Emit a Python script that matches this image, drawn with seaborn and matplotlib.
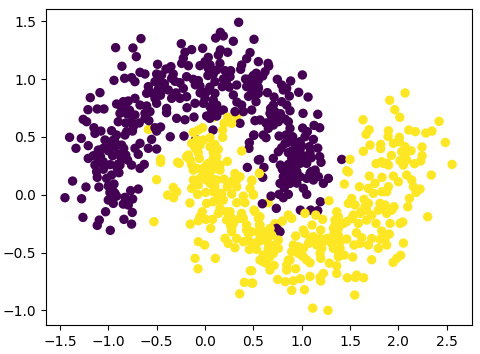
import numpy as np
import pandas as pd
import matplotlib
matplotlib.use('Agg')
import matplotlib.pyplot as plt
import seaborn as sns

# Points as (x, y), one list per moon
yellow_under = [(-0.586,0.565),(0.328,0.68),(0.09,0.67),(0.569,0.19),(0.655,-0.069),(0.76,-0.30),(0.724,-0.25),(-0.5,0.13)]

purple_points = [
(0.348,1.49),(0.159,1.403),(0.110,1.354),(0.19,1.372),(0.293,1.326),(0.507,1.343),(-0.662,1.349),(-0.924,1.271),
(-0.745,1.268),(-0.71,1.193),(-0.245,1.305),(-0.138,1.254),(-0.024,1.265),(-0.207,1.231),(0.159,1.251),(0.234,1.231),
(0.466,1.228),(0.431,1.176),(0.138,1.207),(-0.224,1.179),(-0.241,1.135),(-0.49,1.127),(-0.859,1.11),(0.034,1.187),
(0,1.15),(-0.052,1.115),(0.052,1.121),(0.155,1.135),(0.552,1.15),(0.379,1.121),(0.369,1.084),(-0.172,1.115),
(-0.352,1.107),(-0.403,1.086),(-0.672,1.058),(-0.621,1.043),(-0.5,1.043),(-0.448,1.035),(-0.328,1.043),(-0.345,1.006),
(-0.941,0.988),(-0.831,1.006),(-0.759,1.012),(-0.724,0.977),(0.034,1.092),(0.121,1.078),(0.207,1.072),(0.266,1.072),
(0.086,1.043),(0.259,1.02),(0.103,0.977),(0.19,1.0),(-0.19,1.02),(-0.121,0.997),(-0.069,0.986),(-0.517,0.977),
(-0.466,0.968),(-0.586,0.934),(-0.259,0.968),(-0.224,0.919),(-0.052,0.94),(0.179,0.934),(0.328,0.948),(0.431,0.934),
(0.5,0.977),(0.552,1.006),(0.483,0.919),(0.552,0.919),(-1.086,0.882),(-0.603,0.876),(-0.483,0.911),(-0.379,0.905),
(0.017,0.89),(0.103,0.876),(0.293,0.862),(0.517,0.862),(-1.186,0.839),(-0.724,0.833),(-0.517,0.833),(-0.345,0.833),
(-0.259,0.833),(-0.19,0.847),(0,0.833),(0.086,0.818),(-0.793,0.81),(-0.914,0.784),(-0.845,0.804),(-0.672,0.775),
(-0.603,0.767),(-0.5,0.79),(-0.103,0.79),(-0.017,0.79),(0.052,0.761),(0.121,0.775),(0.379,0.775),(-1.21,0.735),
(-1.114,0.741),(-1.045,0.741),(-0.81,0.744),(-0.397,0.746),(-0.397,0.709),(-0.186,0.752),(-0.879,0.703),(-0.803,0.697),
(-0.724,0.689),(-0.621,0.703),(-0.569,0.718),(0.138,0.718),(0.19,0.732),(0.31,0.718),(0.397,0.718),(0.483,0.732),
(0.017,0.68),(0.121,0.68),(-0.293,0.66),(-0.207,0.648),(-0.114,0.671),(-0.897,0.631),(-0.759,0.631),(-0.621,0.66),
(-1.259,0.651),(-1.224,0.631),(0.362,0.617),(-1.148,0.579),(-1.138,0.53),(-1.076,0.55),(-0.966,0.553),(-0.914,0.516),
(-0.81,0.545),(-0.741,0.588),(-0.517,0.579),(-0.459,0.585),(-0.5,0.55),(-1.4,0.496),(-1.279,0.487),(-1.334,0.401),
(-1.207,0.424),(-0.359,0.501),(-0.217,0.507),(0.083,0.559),(-0.097,0.478),(-0.552,0.478),(-0.828,0.516),(-1.034,0.473),
(-0.931,0.458),(-0.862,0.429),(-0.672,0.444),(-0.586,0.401),(-0.5,0.395),(-1.052,0.401),(-1.103,0.386),(-0.931,0.415),
(-0.724,0.401),(0.507,0.516),(0.459,0.45),(0.455,0.401),(0.552,0.3),(0.438,0.236),(-0.69,0.349),(-0.955,0.337),
(-0.819,0.343),(-1.155,0.337),(-1.207,0.314),(-1.103,0.3),(-1.052,0.285),(-0.862,0.305),(-0.897,0.265),(-0.759,0.256),
(-0.628,0.262),(-0.672,0.228),
(0.652,1.135),(0.659,1.112),(0.621,1.063),(0.597,1.026),(0.552,0.991),(0.5,0.963),(0.483,0.905),(1.007,1.035),
(0.748,0.997),(0.886,0.983),(0.793,0.948),(0.845,0.919),(0.81,0.905),(0.969,0.885),(1.066,0.844),(0.645,0.882),
(0.552,0.876),(0.714,0.844),(0.872,0.853),(0.528,0.804),(0.793,0.804),(0.707,0.775),(0.845,0.775),(0.679,0.746),
(0.879,0.726),(0.672,0.703),(1.014,0.703),(1.166,0.695),(0.69,0.669),(0.517,0.64),(0.569,0.646),(0.828,0.654),
(0.759,0.631),(0.862,0.631),(0.707,0.602),(0.655,0.573),(0.879,0.573),(1.010,0.576),(1.128,0.599),(1.186,0.579),
(1.059,0.545),(0.603,0.516),(0.631,0.493),(0.503,0.513),(0.766,0.507),(0.838,0.516),(0.907,0.501),(1.034,0.501),
(1.121,0.478),(0.983,0.458),(0.828,0.444),(0.93,0.444),(0.793,0.406),(1.079,0.415),(1.166,0.403),(0.759,0.372),
(0.948,0.401),(0.983,0.372),(0.862,0.363),(1.086,0.363),(0.707,0.314),(0.566,0.305),(1.186,0.329),(1.2,0.28),
(1.414,0.305),(0.897,0.314),(0.976,0.329),(0.931,0.285),(0.779,0.256),(0.862,0.262),(0.983,0.271),(1.052,0.271),
(0.61,0.236),(0.897,0.248),(1.138,0.213),
(-1.103,0.277),(-1.138,0.256),(-1.121,0.199),(-1.114,0.15),(-0.879,0.256),(-0.907,0.228),(-0.89,0.19),(-0.966,0.17),
(-1.017,0.141),(-0.941,0.092),(-1.0,0.075),(-1.369,0.118),(-1.231,0.066),(-1.097,0.066),(-1.448,-0.026),(-1.276,-0.035),
(-0.983,0.02),(-0.931,0.012),(-0.914,-0.012),(-1,-0.046),(-0.948,-0.075),(-0.769,0.035),(-0.69,0.049),(-0.828,-0.023),
(-0.748,-0.037),(-0.845,-0.081),(-0.793,-0.089),(-0.752,-0.153),(-1.028,-0.147),(-1.262,-0.196),(-1.093,-0.219),(-1.114,-0.265),
(-0.838,-0.213),(-0.759,-0.254),(-0.979,-0.308),
(0.597,0.15),(0.914,0.228),(0.845,0.199),(0.897,0.17),(0.983,0.156),(0.81,0.156),(1.086,0.184),(1.138,0.199),
(1.172,0.156),(1.276,0.141),(1.224,0.098),(1.121,0.127),(1.052,0.141),(0.776,0.098),(0.879,0.098),(1.017,0.055),
(1.052,0.003),(0.683,-0.012),(0.766,0.003),(0.862,0.003),(0.81,-0.026),(0.593,-0.078),(0.738,-0.118),(0.986,-0.133),
(1.193,-0.061),(1.093,-0.133),(1.166,-0.138),(0.741,-0.291),(0.776,-0.32),
# second pass over the dense parts
(-0.45,0.9),(-0.42,0.96),(-0.55,0.88),(-0.46,0.86),(-0.31,0.98),(-0.3,0.88),(0.03,1.03),(0.05,0.93),
(0.22,0.98),(0.25,0.93),(0.07,0.72),(0.05,0.66),(0.33,0.8),(0.45,0.85),(0.5,0.88),(0.42,1.0),
(0.46,1.0),(0.53,1.05),(-0.75,0.55),(-0.82,0.62),(-0.86,0.75),(-0.78,0.73),(-0.68,0.62),(-0.58,0.64),
(-0.95,0.47),(-1.0,0.38),(-1.08,0.33),(-0.84,0.4),(-0.9,0.35),(-0.98,0.43),(-0.8,0.3),(0.78,0.7),
(0.74,0.66),(0.72,0.72),(0.63,0.62),(0.85,0.45),(0.9,0.38),(0.92,0.33),(1.0,0.42),(1.03,0.33),
(1.1,0.32),(0.95,0.2),(0.8,0.22),(0.85,0.12),(0.9,0.13),(0.95,0.1),(0.82,0.06),(1.1,0.2),
(-0.95,0.03),(-0.97,-0.02),(-0.82,-0.05),(-1.05,0.22),(-0.98,0.26),(0.55,0.93),(0.5,1.03),(0.52,0.87),
(0.95,0.3),(-0.1,0.95),(-0.05,0.88),
]

yellow_points = [
(0.234,0.669),(0.197,0.617),(0.276,0.617),(0.183,0.559),(0.183,0.496),(-0.024,0.579),(-0.069,0.559),(-0.121,0.539),
(0.052,0.493),(-0.138,0.444),(-0.017,0.473),(0.103,0.435),(0.138,0.392),(-0.052,0.429),(-0.103,0.401),(0.379,0.378),
(-0.172,0.343),(-0.069,0.363),(0.086,0.363),(-0.459,0.308),(-0.459,0.28),(-0.283,0.28),(-0.266,0.271),(-0.155,0.3),
(-0.059,0.314),(0.086,0.314),(0.231,0.288),(0.017,0.256),(0.121,0.271),(-0.086,0.228),
(-0.138,0.256),(-0.121,0.213),(-0.017,0.228),(0.069,0.271),(0.155,0.256),(0.069,0.213),(0.155,0.213),(-0.121,0.127),
(-0.052,0.141),(0.017,0.156),(0.197,0.135),(0.31,0.184),(0.362,0.156),(0.328,0.127),(0.286,0.121),(0.486,0.118),
(0.562,0.184),(-0.138,0.055),(-0.069,0.084),(0.052,0.098),(0.103,0.069),(0.231,0.069),(0.328,0.069),(0.466,0.055),
(-0.328,0.063),(-0.293,0.026),(-0.386,-0.003),(-0.324,-0.026),(-0.076,0.003),(0.007,0.02),(0.086,0.026),(0.172,0.012),
(0.276,0.006),(0.397,-0.012),(0.5,-0.003),(-0.155,-0.072),(0.017,-0.075),(0.086,-0.061),(0.155,-0.046),(0.328,-0.069),
(0.414,-0.069),(0.155,-0.118),(0.138,-0.161),(0.259,-0.147),(0.379,-0.161),(0.517,-0.147),(-0.028,-0.147),(-0.052,-0.19),
(-0.069,-0.225),(0.010,-0.213),(0.079,-0.213),(-0.528,-0.233),(-0.152,-0.254),(0.059,-0.291),(0.224,-0.219),(0.276,-0.205),
(0.266,-0.271),(0.431,-0.262),(0.397,-0.205),(0.552,-0.205),(0.569,-0.262),(0.276,-0.32),(0.448,-0.334),(0.207,-0.378),
(0.241,-0.421),(0.328,-0.378),(0.397,-0.406),(0.31,-0.458),(0.459,-0.473),(0.5,-0.435),(-0.069,-0.406),(-0.003,-0.435),
(-0.103,-0.55),(0.107,-0.55),(-0.072,-0.64),(0.469,-0.657),(0.407,-0.758),(0.483,-0.764),(0.359,-0.856),(0.569,-0.565),
(2.069,0.879),(1.91,0.816),(1.962,0.735),(2.014,0.669),(1.634,0.648),(2.421,0.634),(1.697,0.562),(1.666,0.522),
(1.897,0.553),(1.893,0.504),(2.107,0.559),(2.176,0.545),(2.283,0.533),(2.348,0.55),(2.01,0.496),(1.948,0.444),
(2.01,0.458),(2.486,0.452),(1.707,0.429),(1.817,0.435),(1.817,0.398),(1.638,0.375),(2.069,0.415),(2.245,0.412),
(2.034,0.372),(2.131,0.38),(1.928,0.34),(2.245,0.337),(2.069,0.343),(1.5,0.305),(1.769,0.268),(1.828,0.285),
(1.879,0.271),(2.017,0.294),(2.086,0.3),(2.052,0.256),(2.231,0.291),(2.166,0.268),(2.555,0.262),(1.466,0.207),
(2.341,0.17),(1.483,0.196),(1.7,0.161),(1.831,0.15),(1.948,0.161),(2,0.112),(2.086,0.17),(2.138,0.127),
(2.155,0.069),(2.224,0.049),(2.183,0.02),(2.114,-0.032),(2.097,-0.104),(1.441,0.092),(1.597,0.069),(1.69,0.055),
(1.759,0.098),(1.741,0.012),(1.828,0.026),(1.879,0.026),(1.897,0.069),(1.283,-0.052),(1.483,-0.075),(1.517,-0.032),
(1.552,-0.089),(1.645,-0.04),(1.69,-0.075),(1.81,-0.075),(1.862,-0.089),(1.955,-0.104),(1.931,-0.133),(1.879,-0.161),
(1.793,-0.133),(1.672,-0.133),(1.62,-0.147),(1.362,-0.147),(2.303,-0.19),(2.045,-0.236),(2.017,-0.248),(1.914,-0.248),
(1.769,-0.248),(0.862,-0.176),(0.897,-0.205),(1.034,-0.161),(1.145,-0.176),(1.217,-0.213),(1.107,-0.262),(1.345,-0.219),
(1.379,-0.19),(1.466,-0.233),(1.517,-0.205),(1.586,-0.248),(1.672,-0.219),(1.328,-0.291),(1.397,-0.262),(1.017,-0.305),
(1.034,-0.334),(1.197,-0.305),(1.828,-0.314),(1.907,-0.34),(1.566,-0.329),(0.938,-0.357),(1.121,-0.363),(1.19,-0.378),
(1.259,-0.378),(1.379,-0.349),(1.466,-0.383),(1.621,-0.372),(1.724,-0.378),(1.81,-0.386),(1.862,-0.378),(2.052,-0.418),
(0.914,-0.435),(1.069,-0.421),(1.155,-0.435),(1.31,-0.421),(1.397,-0.406),(1.541,-0.435),(1.603,-0.421),(1.69,-0.435),
(1.793,-0.464),(1.879,-0.435),(1.017,-0.464),(1.207,-0.464),(1.328,-0.464),(0.897,-0.493),(0.966,-0.507),(1.379,-0.493),
(1.438,-0.522),(1.528,-0.539),(1.724,-0.562),(2.024,-0.524),(1.983,-0.55),(1.945,-0.585),(1.197,-0.55),(0.862,-0.565),
(1.017,-0.536),(1.086,-0.588),(1.286,-0.591),(1.362,-0.614),(0.845,-0.608),(0.714,-0.611),(0.845,-0.651),(0.938,-0.64),
(1.362,-0.68),(1.224,-0.68),(1.086,-0.706),(1.19,-0.715),(1.197,-0.746),(1.472,-0.718),(1.569,-0.695),(1.555,-0.715),
(1.641,-0.718),(0.752,-0.732),(0.831,-0.752),(0.914,-0.744),(0.986,-0.726),(0.897,-0.827),(1.028,-0.821),(1.548,-0.867),
(1.114,-0.98),(1.272,-1.0),
(0.483,0.127),(0.5,0.003),(0.507,-0.133),(0.569,-0.19),(0.8,-0.228),(0.562,-0.262),(0.483,-0.32),(0.672,-0.291),
(0.621,-0.32),(0.569,-0.349),(0.69,-0.349),(0.638,-0.378),(0.759,-0.392),(0.534,-0.473),(0.655,-0.464),(0.759,-0.464),
(0.707,-0.507),(0.603,-0.522),(0.603,-0.579),(0.672,-0.651),(0.483,-0.657),(0.493,-0.764),(0.483,-0.421),
# second pass over the dense parts
(0.138,-0.017),(0.19,-0.046),(0.121,0.012),(0.224,-0.147),(0.259,-0.19),(0.293,-0.248),(0.276,-0.291),(0.362,-0.205),
(0.431,-0.305),(0.448,-0.392),(0.517,-0.421),(0.552,-0.32),(0.569,-0.378),(0.017,0.127),(0.069,0.141),(0.121,0.127),
(-0.017,0.184),(0.034,0.199),(1.086,-0.392),(1.155,-0.392),(1.224,-0.406),(1.293,-0.392),(1.362,-0.378),(1.328,-0.349),
(1.379,-0.291),(1.345,-0.262),(1.431,-0.248),(1.534,-0.176),(1.603,-0.161),(1.655,-0.104),(1.724,-0.176),(1.828,-0.118),
(0.586,-0.392),(0.655,-0.421),(0.724,-0.435),(0.672,-0.536),(0.638,-0.594),(0.552,-0.406),(0.879,-0.565),(1.0,-0.522),
(1.052,-0.565),(0.966,-0.45),(1.19,-0.507),(1.379,-0.536),(1.397,-0.464),(-0.086,0.473),(0.052,0.415),(0.121,0.329),
(0.034,0.271),(-0.19,0.329),(2.052,0.3),(1.845,0.271),(1.897,0.256),
]

x_ticks = [-1.5, -1.0, -0.5, 0.0, 0.5, 1.0, 1.5, 2.0, 2.5]
y_ticks = [-1.0, -0.5, 0.0, 0.5, 1.0, 1.5]

# Draw order matters: a few yellow points sit under the purple ones
under = pd.DataFrame(yellow_under, columns=['x', 'y']).assign(label=1)
purple = pd.DataFrame(purple_points, columns=['x', 'y']).assign(label=0)
yellow = pd.DataFrame(yellow_points, columns=['x', 'y']).assign(label=1)
df = pd.concat([under, purple, yellow], ignore_index=True)

fig = plt.figure(figsize=(4.8, 3.54), dpi=100)
ax = fig.add_axes([46 / 480, 29 / 354, 425.7 / 480, 316 / 354])
sns.scatterplot(data=df, x='x', y='y', hue='label', palette={0: '#440154', 1: '#fde725'},
                s=46, linewidth=0, legend=False, ax=ax)
ax.set_xlim(-1.644, 2.758)
ax.set_ylim(-1.126, 1.605)
ax.set_xticks(x_ticks)
ax.set_yticks(y_ticks)
ax.set_xlabel('')
ax.set_ylabel('')

plt.savefig('out.png', dpi=100)
